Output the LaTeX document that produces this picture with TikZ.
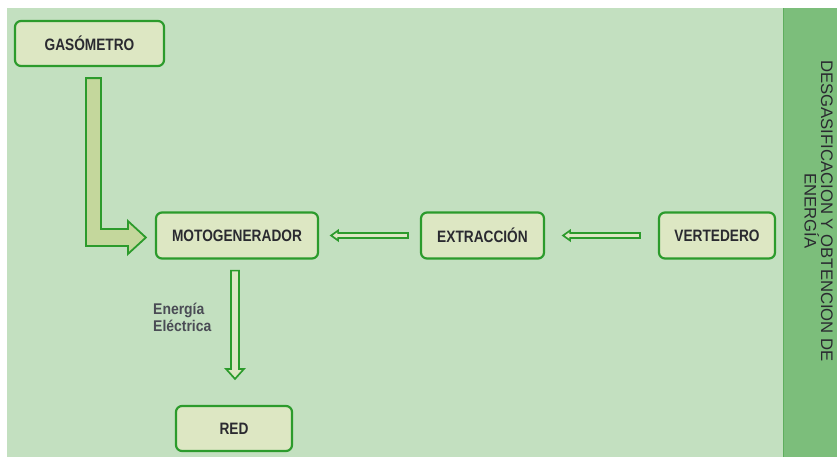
\documentclass[tikz,border=0pt]{standalone}
\usepackage{fontspec}
\setmainfont{Liberation Sans}
\newfontfamily\boxfont[FakeStretch=0.83]{Liberation Sans Bold}
\newfontfamily\lblfont[FakeStretch=0.9]{Liberation Sans Bold}
\usetikzlibrary{calc}
\definecolor{bgpale}{HTML}{C3E0C0}
\definecolor{bgpanel}{HTML}{7CBE7B}
\definecolor{panelline}{HTML}{5FAE5E}
\definecolor{boxfill}{HTML}{DDE7C3}
\definecolor{boxline}{HTML}{2C9B2C}
\definecolor{bigfill}{HTML}{C4D79C}
\definecolor{inktext}{HTML}{2A2A30}
\definecolor{lbltext}{HTML}{4A4C55}
\tikzset{
  stepbox/.style={draw=boxline, line width=2.2pt, fill=boxfill, rounded corners=6pt,
    minimum height=46pt, inner sep=0pt, text=inktext,
    font=\boxfont\fontsize{16.5}{19}\selectfont},
  bigflow/.style={draw=boxline, line width=1.8pt, fill=bigfill, line join=miter},
  thinflow/.style={draw=boxline, line width=1.7pt, fill=boxfill, line join=miter},
}
\begin{document}
\begin{tikzpicture}[x=1pt, y=-1pt]
  % canvas and panels
  \fill[white] (0,0) rectangle (837,459);
  \useasboundingbox (0,0) rectangle (837,459);
  \fill[bgpale] (7,8) rectangle (783,457);
  \fill[bgpanel] (783,8) rectangle (837,457);
  \draw[panelline, line width=1.2pt] (783.6,8) -- (783.6,457);

  % process boxes
  \node[stepbox, minimum width=149pt, minimum height=45pt] (gas)  at (89.5,43.5)  {GASÓMETRO};
  \node[stepbox, minimum width=162pt] (moto) at (237,235.5)  {MOTOGENERADOR};
  \node[stepbox, minimum width=123pt] (ext)  at (482.5,235.5) {EXTRACCIÓN};
  \node[stepbox, minimum width=116pt] (vert) at (717,235.5)   {VERTEDERO};
  \node[stepbox, minimum width=116pt, minimum height=45pt] (red) at (234,428.5) {RED};

  % side title
  \node[rotate=-90, align=center, text=inktext,
        font=\fontsize{16.7}{16.5}\selectfont] (title) at (818.5,211)
        {DESGASIFICACION Y OBTENCION DE\\ENERGÍA};

  % label of the output flow
  \node[anchor=north west, align=left, inner sep=0pt, text=lbltext,
        font=\lblfont\fontsize{15.5}{17}\selectfont] (lbl) at (153,303)
        {Energía\\Eléctrica};

  % gas holder feeds the generator (bent block arrow)
  \coordinate (ltop) at ($(gas.south)+(4,11)$);
  \coordinate (ltip) at ($(moto.west)+(-9,2)$);
  \draw[bigflow] ($(ltop)+(-7.5,0)$) -- ($(ltop)+(7.5,0)$)
     |- ($(ltip)+(-18,-8.5)$) -- ++(0,-8) -- (ltip) -- ++(-18,16.5)
     -- ++(0,-8) -| cycle;

  % extraction -> generator
  \draw[thinflow] ($(ext.west)+(-12,-2.5)$) -- ($(moto.east)+(19,-2.5)$)
     -- ++(0,-2.5) -- ($(moto.east)+(12,0)$) -- ++(7,5) -- ++(0,-2.5)
     -- ($(ext.west)+(-12,2.5)$) -- cycle;

  % landfill -> extraction
  \draw[thinflow] ($(vert.west)+(-18,-2.5)$) -- ($(ext.east)+(25,-2.5)$)
     -- ++(0,-2.5) -- ($(ext.east)+(18,0)$) -- ++(7,5) -- ++(0,-2.5)
     -- ($(vert.west)+(-18,2.5)$) -- cycle;

  % generator -> grid
  \draw[thinflow] ($(moto.south)+(-6,11)$) -- ($(moto.south)+(2,11)$)
     -- ($(red.north)+(5,-36)$) -- ++(5,0) -- ($(red.north)+(1,-26)$)
     -- ++(-9,-10) -- ++(5,0) -- cycle;
\end{tikzpicture}
\end{document}
